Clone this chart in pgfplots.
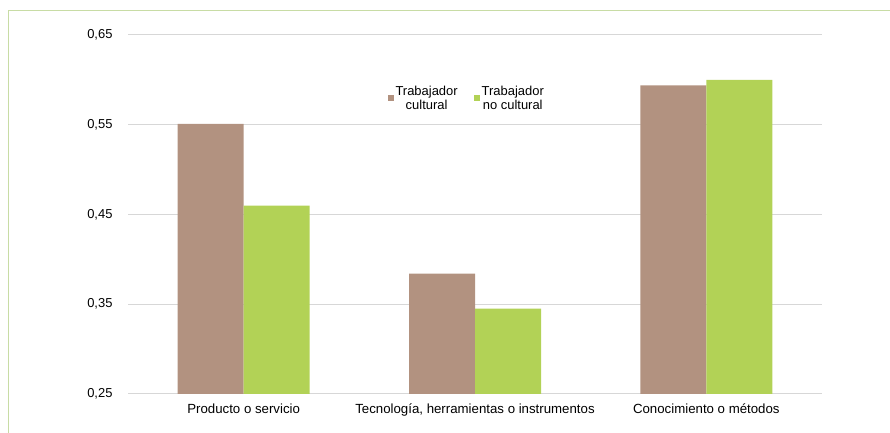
\documentclass[border=0pt]{standalone}
\usepackage{pgfplots}
\pgfplotsset{compat=1.18}
\usepackage{fontspec}
\setmainfont{Liberation Sans}
\definecolor{brownbar}{RGB}{178,146,128}
\definecolor{greenbar}{RGB}{178,210,86}
\definecolor{framegreen}{RGB}{200,220,165}
\definecolor{gridgray}{RGB}{215,215,215}
\begin{document}
\begin{tikzpicture}
\path[use as bounding box] (0,0) rectangle (890bp,433bp);
\draw[framegreen, line width=1bp] (8bp,0) -- (8bp,422bp) -- (890bp,422bp);
\begin{axis}[
  at={(128bp,39bp)}, anchor=south west,
  scale only axis, width=694bp, height=359bp,
  xmin=-0.5, xmax=2.5, ymin=0.25, ymax=0.65,
  ybar=0pt, bar width=66bp,
  xtick={0,1,2},
  xticklabels={Producto o servicio, {Tecnología, herramientas o instrumentos}, Conocimiento o métodos},
  ytick={0.25,0.35,0.45,0.55,0.65},
  /pgf/number format/.cd, use comma, fixed, fixed zerofill, precision=2, assume math mode=true,
  /pgfplots/.cd,
  axis line style={draw=none},
  major tick length=0pt,
  ymajorgrids, grid style={gridgray, line width=1bp},
  yticklabel style={font=\fontsize{13}{15}\selectfont, xshift=-12bp},
  xticklabel style={font=\fontsize{13.3}{15}\selectfont, yshift=-6bp},
  legend columns=2,
  legend style={draw=none, fill=none, at={(0.488,0.824)}, anchor=center,
    font=\fontsize{13}{14}\selectfont, cells={align=center},
    /tikz/every even column/.append style={column sep=14bp}},
  legend image code/.code={\fill[#1] (0bp,-3bp) rectangle (6bp,3bp);},
]
\addplot[fill=brownbar, draw=none] coordinates {(0,0.551) (1,0.384) (2,0.594)};
\addplot[fill=greenbar, draw=none] coordinates {(0,0.460) (1,0.345) (2,0.600)};
\legend{Trabajador\\cultural, Trabajador\\no cultural}
\end{axis}
\end{tikzpicture}
\end{document}
